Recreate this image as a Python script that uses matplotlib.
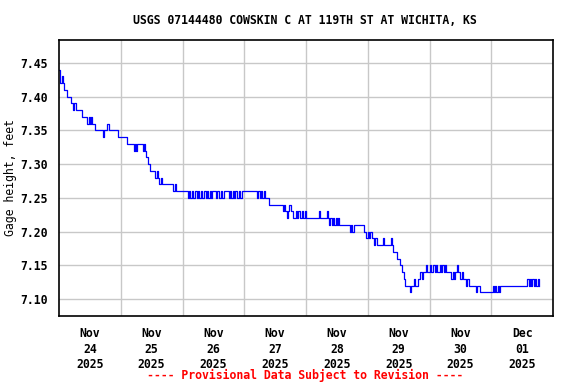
import numpy as np
import pandas as pd
import matplotlib
matplotlib.use('Agg')
import matplotlib.pyplot as plt


# Gage height in hundredths of a foot above 7.00 ft, one reading every 30 minutes
nov24 = [44, 42, 43, 42, 41, 41, 40, 40, 40, 39, 39, 38, 39, 38, 38, 38,
         38, 38, 37, 37, 37, 37, 36, 37, 36, 37, 36, 36, 35, 35, 35, 35,
         35, 35, 34, 35, 35, 36, 36, 35, 35, 35, 35, 35, 35, 35, 34, 34]
nov25 = [34, 34, 34, 34, 34, 33, 33, 33, 33, 33, 32, 33, 32, 33, 33, 33,
         33, 32, 33, 32, 31, 30, 30, 29, 29, 29, 29, 28, 29, 28, 27, 28,
         27, 27, 27, 27, 27, 27, 27, 27, 27, 26, 27, 26, 26, 26, 26, 26]
nov26 = [26, 26, 26, 26, 25, 26, 25, 26, 25, 25, 26, 25, 26, 25, 26, 25,
         25, 26, 25, 26, 25, 26, 25, 26, 26, 26, 25, 26, 25, 25, 26, 25,
         26, 26, 26, 26, 25, 26, 25, 26, 25, 26, 25, 25, 26, 25, 26, 26]
nov27 = [26, 26, 26, 26, 26, 26, 26, 26, 26, 26, 25, 26, 25, 26, 25, 26,
         25, 25, 25, 24, 24, 24, 24, 24, 24, 24, 24, 24, 24, 24, 23, 24,
         23, 22, 23, 24, 23, 23, 22, 22, 23, 22, 23, 22, 22, 23, 22, 23]
nov28 = [22, 22, 22, 22, 22, 22, 22, 22, 22, 22, 23, 22, 22, 22, 22, 22,
         23, 22, 21, 22, 21, 22, 21, 22, 21, 22, 21, 21, 21, 21, 21, 21,
         21, 21, 20, 21, 20, 21, 21, 21, 21, 21, 21, 21, 21, 20, 20, 19]
nov29 = [20, 19, 20, 19, 19, 18, 19, 18, 18, 18, 18, 18, 19, 18, 18, 18,
         18, 18, 19, 18, 17, 17, 17, 16, 16, 15, 15, 14, 13, 12, 12, 12,
         12, 11, 12, 12, 13, 12, 12, 13, 13, 14, 13, 14, 14, 15, 14, 14]
nov30 = [15, 14, 14, 15, 14, 15, 14, 14, 15, 14, 15, 14, 15, 14, 14, 14,
         14, 13, 14, 13, 14, 15, 14, 14, 13, 14, 13, 13, 12, 13, 13, 12,
         12, 12, 12, 12, 11, 12, 12, 11, 11, 11, 11, 11, 11, 11, 11, 11]
dec01 = [11, 12, 11, 12, 11, 12, 11, 12, 12, 12, 12, 12, 12, 12, 12, 12,
         12, 12, 12, 12, 12, 12, 12, 12, 12, 12, 12, 12, 13, 12, 13, 12,
         13, 12, 13, 12, 13, 12]

day_labels = ['Nov\n24\n2025', 'Nov\n25\n2025', 'Nov\n26\n2025', 'Nov\n27\n2025',
              'Nov\n28\n2025', 'Nov\n29\n2025', 'Nov\n30\n2025', 'Dec\n01\n2025']
y_ticks = [7.10, 7.15, 7.20, 7.25, 7.30, 7.35, 7.40, 7.45]

title = 'USGS 07144480 COWSKIN C AT 119TH ST AT WICHITA, KS'
footer = '---- Provisional Data Subject to Revision ----'


def build_series():
    readings = nov24 + nov25 + nov26 + nov27 + nov28 + nov29 + nov30 + dec01
    times = pd.date_range('2025-11-24 00:00', periods=len(readings), freq='30min')
    heights = 7.0 + np.array(readings) / 100.0
    return times, heights


plt.rcParams['font.family'] = 'DejaVu Sans Mono'
plt.rcParams['font.weight'] = 'bold'
plt.rcParams['font.size'] = 8.3

times, heights = build_series()

fig = plt.figure(figsize=(5.76, 3.84), dpi=100)
ax = fig.add_axes([59 / 576, 1 - 316 / 384, 494 / 576, 276 / 384])

ax.plot(times, heights, color='#0000ff', linewidth=0.9, drawstyle='steps-post')

days = pd.date_range('2025-11-24', periods=9, freq='D')
noons = days[:-1] + pd.Timedelta(hours=12)
ax.set_xlim(days[0], days[-1])
ax.set_xticks(days[1:-1])
ax.set_xticklabels([])
ax.set_xticks(noons, minor=True)
ax.set_xticklabels(day_labels, minor=True, linespacing=1.25)

ax.set_ylim(7.0748, 7.4841)
ax.set_yticks(y_ticks)
ax.set_yticklabels(['%.2f' % v for v in y_ticks])
ax.set_ylabel('Gage height, feet')
ax.yaxis.set_label_coords((11 - 59) / 494, 0.5)
ax.yaxis.label.set_va('center')

ax.grid(True, which='major', color='#c8c8c8', linewidth=1)
ax.set_axisbelow(True)
ax.tick_params(which='both', length=0)
ax.tick_params(axis='x', which='minor', pad=8)
ax.tick_params(axis='y', pad=8)
for spine in ax.spines.values():
    spine.set_linewidth(1.2)
    spine.set_color('black')

fig.text(305 / 576, 1 - 20 / 384, title, ha='center', va='center')
fig.text(305 / 576, 1 - 375 / 384, footer, ha='center', va='center', color='red')

fig.savefig('out.png', dpi=100)
